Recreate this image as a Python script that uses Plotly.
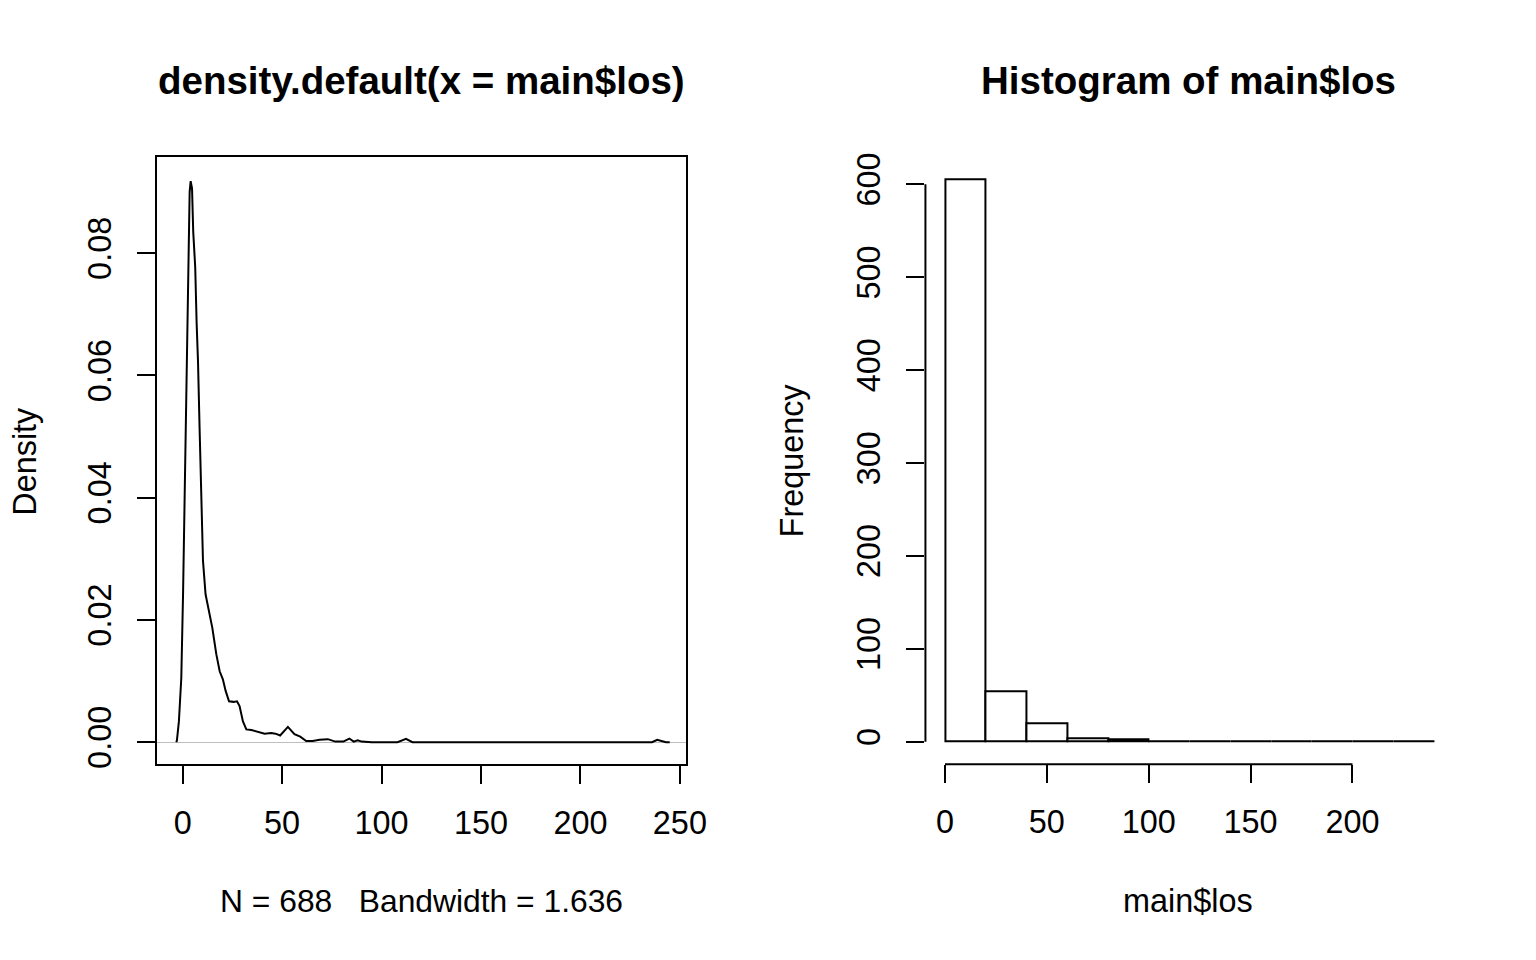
import plotly.graph_objects as go

# densidade estimada - main$los
dens_x = [-3.2, -2.9, -1.9, -0.7, 0.2, 1.2, 1.7, 2.2, 2.8, 3.5, 4.0, 4.7, 5.3, 6.3, 7.0, 7.7,
          8.5, 9.2, 9.7, 10.2, 11.5, 13.2, 14.9, 16.9, 18.6, 20.2, 21.6, 23.3, 25.6, 27.3,
          28.6, 30.3, 32.0, 34.5, 37.8, 41.2, 44.5, 46.7, 49.0, 52.9, 56.2, 59.1, 62.1,
          65.4, 68.8, 73.0, 76.7, 80.8, 83.8, 86.0, 88.0, 90.0, 95.0, 108.0, 112.3, 115.5,
          236.0, 238.6, 243.0, 244.9]
dens_y = [0.0, 0.0003, 0.0034, 0.0105, 0.0245, 0.046, 0.0577, 0.0687, 0.078, 0.090, 0.0918,
          0.0906, 0.0835, 0.0777, 0.0687, 0.0623, 0.0513, 0.0429, 0.0339, 0.0297, 0.0242,
          0.0215, 0.0187, 0.0144, 0.0116, 0.0103, 0.0084, 0.0067, 0.0066, 0.0067, 0.0059,
          0.0034, 0.0021, 0.0020, 0.0017, 0.0014, 0.0015, 0.0014, 0.0011, 0.0025, 0.0013,
          0.0009, 0.0002, 0.0002, 0.0004, 0.0005, 0.0001, 0.0001, 0.0006, 0.0001, 0.0003,
          0.0001, 0.0, 0.0, 0.00055, 0.0, 0.0, 0.0004, 0.0, 0.0]
dens_xticks = [0, 50, 100, 150, 200, 250]
dens_yticks = [0.00, 0.02, 0.04, 0.06, 0.08]

# histograma (classes de 20)
hist_inicio = [0, 20, 40, 60, 80, 100, 120, 140, 160, 180, 200, 220]
hist_contagem = [605, 54, 20, 4, 3, 1, 0, 0, 0, 0, 0, 1]
hist_largura = 20
hist_xticks = [0, 50, 100, 150, 200]
hist_yticks = [0, 100, 200, 300, 400, 500, 600]

W, H = 1536, 960
FONTE = "Liberation Sans, Arial, sans-serif"
# a captura sai um pouco reduzida; compensa escala e deslocamento
ESC = 0.988
DESL_Y = 5.0
TAM = 32.4

def px_x(p):
    return (p / ESC) / W

def px_y(p):
    return 1 - ((p - DESL_Y) / ESC) / H

fig = go.Figure()

fig.add_trace(go.Scatter(
    x=dens_x, y=dens_y, mode="lines",
    line=dict(color="black", width=2),
    xaxis="x", yaxis="y", showlegend=False, hoverinfo="skip"
))

fig.add_trace(go.Bar(
    x=hist_inicio, y=hist_contagem, width=hist_largura, offset=0,
    marker=dict(color="white", line=dict(color="black", width=2)),
    xaxis="x2", yaxis="y2", showlegend=False, hoverinfo="skip"
))

eixo = dict(
    showgrid=False, ticks="outside", ticklen=18, tickwidth=2, tickcolor="black",
    tickfont=dict(family=FONTE, size=TAM, color="black"), ticklabelstandoff=13,
)

fig.update_layout(
    width=W, height=H,
    margin=dict(l=0, r=0, t=0, b=0),
    paper_bgcolor="white", plot_bgcolor="white",
    bargap=0,
    xaxis=dict(eixo, domain=[px_x(157), px_x(687)], range=[-13.05, 253.0],
               tickvals=dens_xticks, showline=True, linecolor="black", linewidth=2,
               mirror=True, zeroline=False, anchor="y", ticklabelstandoff=11),
    yaxis=dict(eixo, domain=[px_y(763), px_y(157)], range=[-0.0036, 0.0957],
               tickvals=dens_yticks, ticktext=[f"{v:.2f}" for v in dens_yticks],
               tickangle=-90, showline=True, linecolor="black", linewidth=2,
               mirror=True, zeroline=True, zerolinecolor="#BEBEBE", zerolinewidth=1,
               anchor="x"),
    xaxis2=dict(eixo, domain=[px_x(927), px_x(1456)], range=[-9.6, 249.6],
                tickvals=hist_xticks, showline=False, zeroline=False, anchor="y2",
                ticklabelstandoff=11),
    yaxis2=dict(eixo, domain=[px_y(763), px_y(157)], range=[-24.2, 629.2],
                tickvals=hist_yticks, tickangle=-90, showline=False, zeroline=False,
                anchor="x2"),
)

# linhas dos eixos do histograma (só entre o primeiro e o último tick, como no R)
fig.add_shape(type="line", xref="x2", yref="y2 domain",
              x0=hist_xticks[0], x1=hist_xticks[-1], y0=0, y1=0,
              line=dict(color="black", width=2))
fig.add_shape(type="line", xref="x2 domain", yref="y2",
              x0=0, x1=0, y0=hist_yticks[0], y1=hist_yticks[-1],
              line=dict(color="black", width=2))

# textos
textos = [
    ("density.default(x = main$los)", 422, 80, 38.5, True, 0),
    ("Histogram of main$los", 1191, 80, 38.5, True, 0),
    ("N = 688\u00a0\u00a0\u00a0Bandwidth = 1.636", 422, 900, 31.8, False, 0),
    ("main$los", 1190, 900, TAM, False, 0),
    ("Density", 25, 460, TAM, False, -90),
    ("Frequency", 793, 460, TAM, False, -90),
]
for txt, x, y, tam, negrito, ang in textos:
    fig.add_annotation(
        text=f"<b>{txt}</b>" if negrito else txt,
        x=px_x(x), y=px_y(y), xref="paper", yref="paper",
        xanchor="center", yanchor="middle", showarrow=False, textangle=ang,
        font=dict(family=FONTE, size=tam, color="black"),
    )

ajuste = "document.body.style.margin='0';document.body.style.overflow='hidden';"
fig.write_html("out.html", post_script=ajuste, config=dict(displayModeBar=False))
